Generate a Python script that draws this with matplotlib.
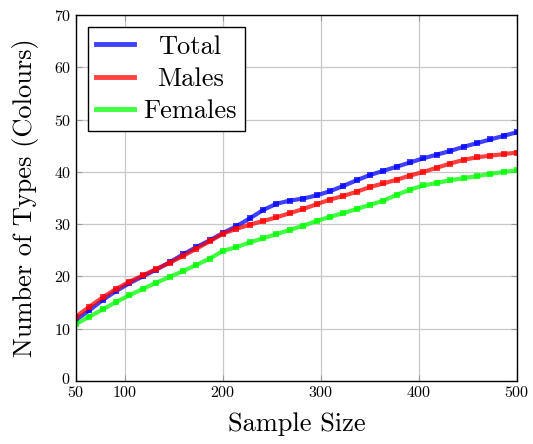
import numpy as np
import matplotlib
matplotlib.use('Agg')
import matplotlib.pyplot as plt
import matplotlib.transforms as mtransforms

plt.rcParams['font.family'] = 'serif'
plt.rcParams['font.serif'] = ['cmr10']
plt.rcParams['mathtext.fontset'] = 'cm'
plt.rcParams['axes.formatter.use_mathtext'] = True

sample_size = [50, 63.6, 77.3, 90.9, 104.5, 118.2, 131.8, 145.5, 159.1, 172.7,
               186.4, 200, 213.6, 227.3, 240.9, 254.5, 268.2, 281.8, 295.5, 309.1,
               322.7, 336.4, 350, 363.6, 377.3, 390.9, 404.5, 418.2, 431.8, 445.5,
               459.1, 472.7, 486.4, 500]

total = [11.7, 13.5, 15.5, 17.2, 18.7, 20.0, 21.3, 22.7, 24.2, 25.6,
         26.9, 28.3, 29.6, 31.1, 32.7, 33.9, 34.5, 34.9, 35.5, 36.3,
         37.3, 38.4, 39.4, 40.2, 41.0, 41.8, 42.6, 43.3, 44.0, 44.8,
         45.5, 46.2, 46.9, 47.6]

males = [12.3, 14.2, 16.0, 17.6, 19.0, 20.2, 21.4, 22.6, 23.9, 25.3,
         26.7, 28.2, 29.1, 29.9, 30.6, 31.3, 32.1, 32.9, 33.8, 34.7,
         35.4, 36.2, 37.1, 37.8, 38.5, 39.3, 40.0, 40.8, 41.6, 42.3,
         42.8, 43.1, 43.4, 43.7]

females = [10.9, 12.3, 13.7, 15.1, 16.4, 17.6, 18.8, 19.9, 21.0, 22.2,
           23.4, 24.9, 25.6, 26.5, 27.3, 28.1, 28.9, 29.7, 30.6, 31.4,
           32.1, 32.9, 33.7, 34.5, 35.6, 36.6, 37.4, 37.9, 38.4, 38.8,
           39.2, 39.6, 40.0, 40.3]

series = [('Total', total, '#0000ff'),
          ('Males', males, '#ff0000'),
          ('Females', females, '#00ff00')]

x_ticks = [50, 100, 200, 300, 400, 500]
y_ticks = [0, 10, 20, 30, 40, 50, 60, 70]

fig = plt.figure(figsize=(5.33, 4.44), dpi=100)
ax = fig.add_axes([0.1426, 0.142, 0.8274, 0.824])

for name, vals, col in series:
    ax.plot(sample_size, vals, color=col, alpha=0.75, lw=3.0,
            marker='s', markersize=5, markeredgewidth=0, label=name)

ax.set_xlim(50, 500)
ax.set_ylim(0, 70)
ax.set_xticks(x_ticks)
ax.set_yticks(y_ticks)
ax.grid(True, color='#c8c8c8', lw=0.9)
ax.set_axisbelow(True)
ax.tick_params(direction='in', length=4, color='#999999', top=True, right=True,
               labelsize=11.5, pad=3)
for sp in ax.spines.values():
    sp.set_linewidth(1.0)

# nudge the "0" up/left a bit like the original
zero_lab = ax.get_yticklabels()[0]
zero_lab.set_transform(zero_lab.get_transform() +
                       mtransforms.ScaledTranslation(-1/100, 3/100, fig.dpi_scale_trans))

ax.set_xlabel('Sample Size', fontsize=19, labelpad=9)
ax.set_ylabel('Number of Types (Colours)', fontsize=19, labelpad=11)

leg = ax.legend(loc='upper left', fontsize=19, frameon=True, fancybox=False,
                edgecolor='black', framealpha=1, handlelength=1.45,
                borderaxespad=0.45, labelspacing=0.32, handletextpad=0.35,
                borderpad=0.3)
leg.get_frame().set_linewidth(1.0)
for h in leg.legend_handles:
    h.set_marker('')
    h.set_linewidth(3.5)

# centre the legend labels in their column (pgfplots style)
fig.canvas.draw()
r = fig.canvas.get_renderer()
texts = leg.get_texts()
boxes = [t.get_window_extent(r) for t in texts]
x0 = min(b.x0 for b in boxes)
x1 = max(b.x1 for b in boxes)
xc = (x0 + x1) / 2
for t, b in zip(texts, boxes):
    shift = xc - (b.x0 + b.x1) / 2
    t.set_transform(t.get_transform() +
                    mtransforms.Affine2D().translate(shift, 0))

fig.savefig('out.png', dpi=100)
